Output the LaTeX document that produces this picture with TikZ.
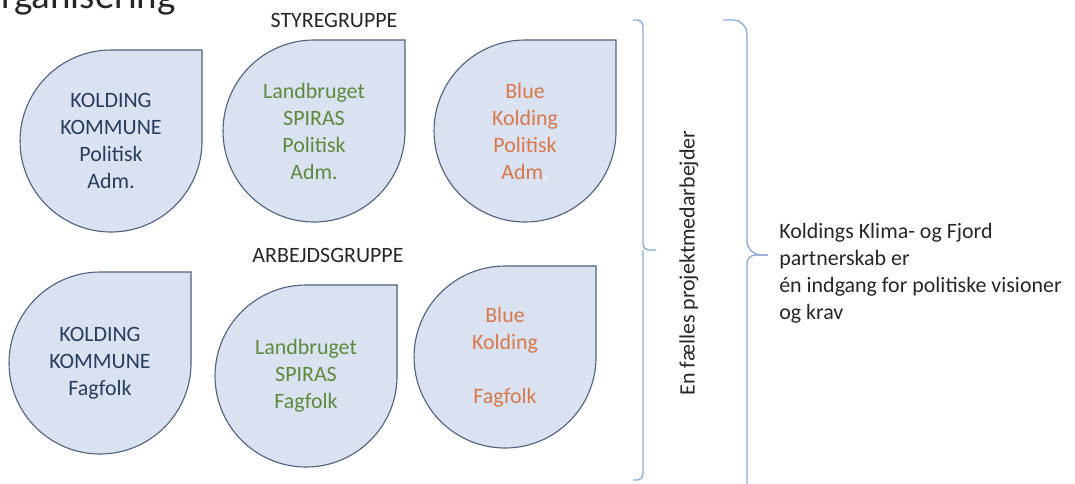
\documentclass[tikz,border=0pt]{standalone}
\usepackage{fontspec}
\setmainfont{Carlito}
\usepackage{xcolor}
\usetikzlibrary{positioning,backgrounds}

\definecolor{dropfill}{HTML}{DAE1F0}
\definecolor{dropedge}{HTML}{52627F}
\definecolor{kommunetext}{HTML}{263D5E}
\definecolor{landbrugtext}{HTML}{5B8A3C}
\definecolor{bluekoldtext}{HTML}{D9784A}
\definecolor{bracecol}{HTML}{8EA9DB}
\definecolor{darktext}{HTML}{262626}

\begin{document}
\begin{tikzpicture}[x=0.025cm,y=-0.025cm,
  drop/.style={circle,minimum size=4.55cm,outer sep=0pt,align=center,
    font=\fontsize{15.6}{19.2}\selectfont},
  dropline/.style={draw=dropedge,fill=dropfill,line width=0.8pt},
  grouplabel/.style={anchor=base,text=darktext,font=\fontsize{15.6}{19.2}\selectfont},
  brace/.style={draw=bracecol,line width=1pt}]
\tikzstyle{every node}+=[inner sep=0pt]
\useasboundingbox (0,0) rectangle (1075,483);
\clip (0,0) rectangle (1075,483);

% title, cut at the page edge
\node[anchor=base east,text=darktext,font=\fontsize{27.7}{33}\selectfont] (title) at (176,8.5) {Organisering};

% styregruppe
\node[grouplabel] (styr) at (334,27) {STYREGRUPPE};
\node[drop,text=kommunetext] (kompol) at (111,141) {KOLDING\\KOMMUNE\\Politisk\\Adm.};
\node[drop,text=landbrugtext] (lanpol) at (314,131) {Landbruget\\SPIRAS\\Politisk\\Adm.};
\node[drop,text=bluekoldtext] (blupol) at (525,131) {Blue\\Kolding\\Politisk\\Adm{\color{white}.}};

% arbejdsgruppe
\node[grouplabel] (arb) at (328,262) {ARBEJDSGRUPPE};
\node[drop,text=kommunetext] (komfag) at (100,363) {KOLDING\\KOMMUNE\\Fagfolk};
\node[drop,text=landbrugtext] (lanfag) at (306,376) {Landbruget\\SPIRAS\\Fagfolk};
\node[drop,text=bluekoldtext] (blufag) at (505,357) {Blue\\Kolding\\\mbox{}\\Fagfolk};

\begin{scope}[on background layer]
\foreach \n in {kompol,lanpol,blupol,komfag,lanfag,blufag}
  \draw[dropline] (\n.north) -| (\n.east) arc[start angle=0,end angle=270,radius=91] -- cycle;
\end{scope}

% braces
\draw[brace,rounded corners=4] (633,20) -| (643,250) -- (656,250);
\draw[brace,rounded corners=4] (633,480) -| (643,250);
\draw[brace,rounded corners=10] (723,20) -| (747,255) -- (768,255);
\draw[brace,rounded corners=6] (747,495) |- (768,255);

\node[rotate=90,text=darktext,font=\fontsize{15.6}{19.2}\selectfont] (proj) at (689,263) {En fælles projektmedarbejder};
\node[anchor=north west,align=left,text=darktext,font=\fontsize{15.6}{19.2}\selectfont] (partner) at (779,223)
  {Koldings Klima- og Fjord\\partnerskab er\\én indgang for politiske visioner\\og krav};
\end{tikzpicture}
\end{document}
